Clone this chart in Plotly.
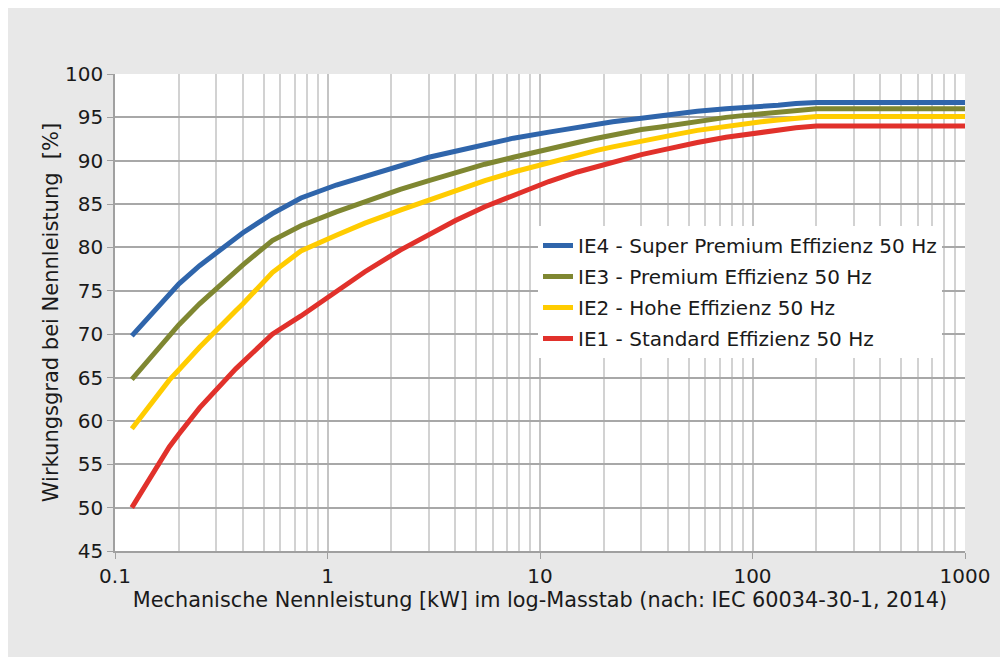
import plotly.graph_objects as go

power_kw = [0.12, 0.18, 0.2, 0.25, 0.37, 0.4, 0.55, 0.75, 1.1, 1.5, 2.2, 3, 4, 5.5, 7.5,
            11, 15, 18.5, 22, 30, 37, 45, 55, 75, 90, 110, 132, 160, 200, 1000]
ie1 = [50.0, 57.0, 58.5, 61.5, 66.0, 66.8, 70.0, 72.1, 75.0, 77.2, 79.7, 81.5, 83.1, 84.7, 86.0,
       87.6, 88.7, 89.3, 89.9, 90.7, 91.2, 91.7, 92.1, 92.7, 93.0, 93.3, 93.5, 93.8, 94.0, 94.0]
ie2 = [59.1, 64.7, 65.9, 68.5, 72.7, 73.5, 77.1, 79.6, 81.4, 82.8, 84.3, 85.5, 86.6, 87.7, 88.7,
       89.8, 90.6, 91.2, 91.6, 92.3, 92.7, 93.1, 93.5, 94.0, 94.2, 94.5, 94.7, 94.9, 95.1, 95.1]
ie3 = [64.8, 69.9, 71.1, 73.5, 77.3, 78.0, 80.8, 82.5, 84.1, 85.3, 86.7, 87.7, 88.6, 89.6, 90.4,
       91.4, 92.1, 92.6, 93.0, 93.6, 93.9, 94.2, 94.6, 95.0, 95.2, 95.4, 95.6, 95.8, 96.0, 96.0]
ie4 = [69.8, 74.7, 75.8, 77.9, 81.1, 81.7, 83.9, 85.7, 87.2, 88.2, 89.5, 90.4, 91.1, 91.9, 92.6,
       93.3, 93.9, 94.2, 94.5, 94.9, 95.2, 95.4, 95.7, 96.0, 96.1, 96.3, 96.4, 96.6, 96.7, 96.7]

series_names = ["IE4 - Super Premium Effizienz 50 Hz", "IE3 - Premium Effizienz 50 Hz",
                "IE2 - Hohe Effizienz 50 Hz", "IE1 - Standard Effizienz 50 Hz"]
series_values = [ie4, ie3, ie2, ie1]
series_colors = ["#2f65ab", "#7f8731", "#ffcc00", "#e1312b"]

x_tick_vals = [0.1, 1, 10, 100, 1000]
x_tick_text = ["0.1", "1", "10", "100", "1000"]
x_minor_vals = [m * d for d in [0.1, 1, 10, 100] for m in range(2, 10)]

FONT = "DejaVu Sans"
TXT = "#1a1a1a"
FS = 20

fig = go.Figure()
for i, (name, vals, col) in enumerate(zip(series_names, series_values, series_colors)):
    fig.add_trace(go.Scatter(x=power_kw, y=vals, mode="lines", name=name,
                             legendgroup=f"g{i}",
                             line=dict(color=col, width=5)))

W, H = 1000, 649
L, R, T, B = 107, 43, 66, 106
pw, ph = W - L - R, H - T - B

fig.update_layout(
    width=W, height=H,
    margin=dict(l=L, r=R, t=T, b=B),
    paper_bgcolor="#e8e8e8",
    plot_bgcolor="white",
    font=dict(family=FONT, color=TXT, size=FS),
    showlegend=True,
    legend=dict(x=(530 - L) / pw, y=(H - B - 218) / ph, xanchor="left", yanchor="top",
                bgcolor="white", borderwidth=0, font=dict(size=FS, family=FONT, color=TXT),
                traceorder="grouped", tracegroupgap=2),
    xaxis=dict(type="log", range=[-1, 3], tickmode="array", tickvals=x_tick_vals,
               ticktext=x_tick_text, showgrid=True, gridcolor="#c4c4c4", gridwidth=1.5,
               ticks="outside", ticklen=6, tickcolor="#a0a0a0", showline=True,
               linecolor="#a0a0a0", linewidth=1.5, zeroline=False,
               tickfont=dict(size=FS),
               minor=dict(tickmode="array", tickvals=x_minor_vals, showgrid=True,
                          gridcolor="#d2d2d2", gridwidth=1.5, ticks=""),
               title=dict(text="Mechanische Nennleistung [kW] im log-Masstab (nach: IEC 60034-30-1, 2014)",
                          font=dict(size=20.8), standoff=6)),
    yaxis=dict(range=[45, 100], tickmode="linear", tick0=45, dtick=5, showgrid=True,
               gridcolor="#a8a8a8", gridwidth=1.5, ticks="outside", ticklen=6,
               tickcolor="#a0a0a0", showline=True, linecolor="#a0a0a0", linewidth=1.5,
               zeroline=False, tickfont=dict(size=FS),
               title=dict(text="Wirkungsgrad bei Nennleistung  [%]", font=dict(size=21), standoff=1)),
)

fig.write_html("out.html")
